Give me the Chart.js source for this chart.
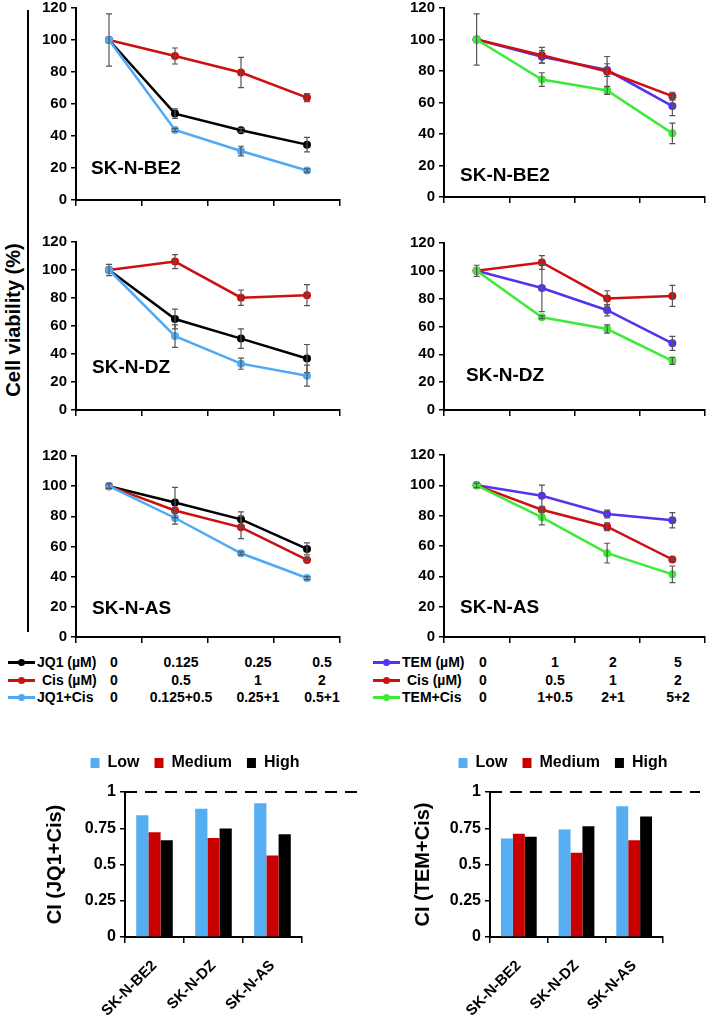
<!DOCTYPE html>
<html>
<head>
  <meta charset="utf-8">
  <title>Cell viability and CI</title>
  <script src="https://cdn.jsdelivr.net/npm/chart.js"></script>
  <style>
    body { margin: 0; width: 709px; height: 1017px; position: relative; overflow: hidden; background: #fff;
           font-family: "Liberation Sans", Arial, sans-serif; font-weight: bold; color: #000; }
    canvas { position: absolute; }
    .cell { position: absolute; font-size: 19px; line-height: 19px; white-space: nowrap; }
    .ylab { position: absolute; left: 13px; top: 320px; font-size: 20px; line-height: 20px; white-space: nowrap;
            transform: translate(-50%, -50%) rotate(-90deg); }
    .vline { position: absolute; left: 27px; top: 10px; width: 2px; height: 622px; background: #000; }
    .lg { position: absolute; font-size: 14px; line-height: 16px; white-space: nowrap; }
    .num { transform: translateX(-50%); }
    .mk { position: absolute; width: 27px; height: 3px; }
    .mk::after { content: ""; position: absolute; left: 10px; top: -2px; width: 7px; height: 7px; border-radius: 50%; background: inherit; }
  </style>
</head>
<body>
  <div class="vline"></div>
  <div class="ylab">Cell viability (%)</div>

  <canvas id="be2Jq1" width="344" height="218" style="left:0;top:-5px"></canvas>
  <canvas id="be2Tem" width="349" height="215" style="left:360px;top:-5px"></canvas>
  <canvas id="dzJq1" width="344" height="194" style="left:0;top:229px"></canvas>
  <canvas id="dzTem" width="349" height="193" style="left:360px;top:230px"></canvas>
  <canvas id="asJq1" width="344" height="207" style="left:0;top:443px"></canvas>
  <canvas id="asTem" width="349" height="208" style="left:360px;top:442px"></canvas>

  <div class="cell" style="left:91px;top:158px">SK-N-BE2</div>
  <div class="cell" style="left:460px;top:165px">SK-N-BE2</div>
  <div class="cell" style="left:92px;top:357px">SK-N-DZ</div>
  <div class="cell" style="left:466px;top:365px">SK-N-DZ</div>
  <div class="cell" style="left:92px;top:598px">SK-N-AS</div>
  <div class="cell" style="left:460px;top:597px">SK-N-AS</div>

  <div id="legendJq1"></div>
  <div id="legendTem"></div>

  <canvas id="ciJq1" width="344" height="277" style="left:20px;top:740px"></canvas>
  <canvas id="ciTem" width="302" height="277" style="left:407px;top:740px"></canvas>

  <script>
    // dose steps (shown in the table under the line charts)
    const jq1Doses = ['0', '0.125', '0.25', '0.5'];
    const cisDoses = ['0', '0.5', '1', '2'];
    const jq1CisDoses = ['0', '0.125+0.5', '0.25+1', '0.5+1'];
    const temDoses = ['0', '1', '2', '5'];
    const temCisDoses = ['0', '1+0.5', '2+1', '5+2'];

    // cell viability (%) and error (+/-)
    const cisBe2 = [100, 90, 79.7, 64];
    const cisBe2Err = [16.3, 5, 9.5, 2.5];
    const jq1Be2 = [100, 54, 43.6, 34.6];
    const jq1Be2Err = [0, 3, 1.2, 4.5];
    const jq1CisBe2 = [100, 43.8, 30.6, 18.4];
    const jq1CisBe2Err = [0, 1, 3, 1];
    const temBe2 = [100, 89, 80.6, 57.7];
    const temBe2Err = [0, 4, 4, 6];
    const temCisBe2 = [100, 74.6, 67.6, 40.4];
    const temCisBe2Err = [0, 4.3, 2.5, 6.5];

    const cisDz = [100, 106, 80.2, 82];
    const cisDzErr = [4, 5, 5.5, 7.5];
    const jq1Dz = [100, 65, 51, 36.8];
    const jq1DzErr = [0, 7, 7, 10];
    const jq1CisDz = [100, 52.8, 33.1, 24.5];
    const jq1CisDzErr = [0, 8, 4, 7.5];
    const temDz = [100, 87.7, 71.7, 47.9];
    const temDzErr = [0, 17, 4, 5];
    const temCisDz = [100, 66.6, 58.2, 35.3];
    const temCisDzErr = [0, 1, 3, 2.5];

    const cisAs = [100, 83.9, 72.7, 51.1];
    const cisAsErrJq1 = [1.5, 2, 7.5, 1];
    const cisAsErrTem = [1.5, 1.5, 2.5, 1];
    const jq1As = [100, 89.2, 78, 58.4];
    const jq1AsErr = [0, 10, 5, 4];
    const jq1CisAs = [100, 78.9, 55.5, 39.1];
    const jq1CisAsErr = [0, 4, 1, 1];
    const temAs = [100, 93.1, 81.1, 77];
    const temAsErr = [0, 7, 2.5, 5];
    const temCisAs = [100, 78.9, 55.3, 41.3];
    const temCisAsErr = [0, 5, 6.5, 5.5];

    // combination index
    const cellLines = ['SK-N-BE2', 'SK-N-DZ', 'SK-N-AS'];
    const ciJq1Low = [0.84, 0.884, 0.922];
    const ciJq1Medium = [0.723, 0.682, 0.562];
    const ciJq1High = [0.667, 0.749, 0.709];
    const ciTemLow = [0.68, 0.741, 0.902];
    const ciTemMedium = [0.712, 0.581, 0.668];
    const ciTemHigh = [0.691, 0.764, 0.831];
    const ciTicks = [0, 0.25, 0.5, 0.75, 1];
    const ciThreshold = 1;

    const RED = '#cc1010', BLACK = '#000000', LIGHTBLUE = '#4fa9f5', PURPLE = '#5533ee', GREEN = '#3dea3a';
    const BAR_LOW = '#55aef2', BAR_MED = '#c80000', BAR_HIGH = '#000000';

    Chart.defaults.font.family = "'Liberation Sans', Arial, sans-serif";
    Chart.defaults.font.weight = 'bold';
    Chart.defaults.color = '#000';

    // draws +/- error bars from dataset.errors
    const errorBars = {
      id: 'errorBars',
      afterDatasetsDraw(chart) {
        const ctx = chart.ctx;
        const y = chart.scales.y;
        ctx.save();
        ctx.strokeStyle = '#555';
        ctx.lineWidth = 1.2;
        chart.data.datasets.forEach((ds, i) => {
          if (!ds.errors) return;
          chart.getDatasetMeta(i).data.forEach((pt, j) => {
            const e = ds.errors[j];
            if (!e) return;
            const top = y.getPixelForValue(ds.data[j] + e);
            const bot = y.getPixelForValue(ds.data[j] - e);
            ctx.beginPath();
            ctx.moveTo(pt.x, top); ctx.lineTo(pt.x, bot);
            ctx.moveTo(pt.x - 3, top); ctx.lineTo(pt.x + 3, top);
            ctx.moveTo(pt.x - 3, bot); ctx.lineTo(pt.x + 3, bot);
            ctx.stroke();
          });
        });
        ctx.restore();
      }
    };

    function lineChart(id, labels, series, yWidth) {
      return new Chart(document.getElementById(id), {
        type: 'line',
        data: {
          labels: labels,
          datasets: series.map(s => ({
            data: s.values, errors: s.errors, order: s.order,
            borderColor: s.color, backgroundColor: s.color,
            borderWidth: 2.5, pointRadius: 4, pointBorderWidth: 0, tension: 0
          }))
        },
        options: {
          responsive: false, animation: false,
          layout: { padding: { top: 12, bottom: 4, left: 0, right: 4 } },
          plugins: { legend: { display: false }, tooltip: { enabled: false } },
          scales: {
            x: {
              offset: true,
              ticks: { display: false },
              grid: { offset: true, drawOnChartArea: false, tickLength: 6, color: '#000', lineWidth: 1.5 },
              border: { color: '#000', width: 2 },
              afterFit: s => { s.height = 6; }
            },
            y: {
              min: 0, max: 120,
              ticks: { stepSize: 20, padding: 4, font: { size: 15, weight: 'bold' }, color: '#000' },
              grid: { drawOnChartArea: false, tickLength: 5, color: '#000', lineWidth: 1.5 },
              border: { color: '#000', width: 2 },
              afterFit: s => { s.width = yWidth; }
            }
          }
        },
        plugins: [errorBars]
      });
    }

    lineChart('be2Jq1', jq1Doses, [
      { values: jq1Be2, errors: jq1Be2Err, color: BLACK, order: 2 },
      { values: cisBe2, errors: cisBe2Err, color: RED, order: 1 },
      { values: jq1CisBe2, errors: jq1CisBe2Err, color: LIGHTBLUE, order: 0 }
    ], 76);
    lineChart('be2Tem', temDoses, [
      { values: temBe2, errors: temBe2Err, color: PURPLE, order: 2 },
      { values: cisBe2, errors: cisBe2Err, color: RED, order: 1 },
      { values: temCisBe2, errors: temCisBe2Err, color: GREEN, order: 0 }
    ], 84);
    lineChart('dzJq1', jq1Doses, [
      { values: jq1Dz, errors: jq1DzErr, color: BLACK, order: 2 },
      { values: cisDz, errors: cisDzErr, color: RED, order: 1 },
      { values: jq1CisDz, errors: jq1CisDzErr, color: LIGHTBLUE, order: 0 }
    ], 76);
    lineChart('dzTem', temDoses, [
      { values: temDz, errors: temDzErr, color: PURPLE, order: 2 },
      { values: cisDz, errors: cisDzErr, color: RED, order: 1 },
      { values: temCisDz, errors: temCisDzErr, color: GREEN, order: 0 }
    ], 84);
    lineChart('asJq1', jq1Doses, [
      { values: jq1As, errors: jq1AsErr, color: BLACK, order: 2 },
      { values: cisAs, errors: cisAsErrJq1, color: RED, order: 1 },
      { values: jq1CisAs, errors: jq1CisAsErr, color: LIGHTBLUE, order: 0 }
    ], 76);
    lineChart('asTem', temDoses, [
      { values: temAs, errors: temAsErr, color: PURPLE, order: 2 },
      { values: cisAs, errors: cisAsErrTem, color: RED, order: 1 },
      { values: temCisAs, errors: temCisAsErr, color: GREEN, order: 0 }
    ], 84);

    // dose table under the line charts
    function doseTable(el, rows, markerX, cols) {
      const tops = [654, 672, 689];
      let html = '';
      rows.forEach((r, i) => {
        html += `<div class="mk" style="left:${markerX}px;top:${tops[i] + 7}px;background:${r.color}"></div>`;
        html += `<div class="lg" style="left:${r.x}px;top:${tops[i]}px">${r.name}</div>`;
        r.doses.forEach((d, j) => {
          html += `<div class="lg num" style="left:${cols[j]}px;top:${tops[i]}px">${d}</div>`;
        });
      });
      document.getElementById(el).innerHTML = html;
    }
    doseTable('legendJq1', [
      { name: 'JQ1 (µM)', doses: jq1Doses, color: BLACK, x: 37 },
      { name: 'Cis (µM)', doses: cisDoses, color: RED, x: 42 },
      { name: 'JQ1+Cis', doses: jq1CisDoses, color: LIGHTBLUE, x: 37 }
    ], 8, [114, 181, 258, 322]);
    doseTable('legendTem', [
      { name: 'TEM (µM)', doses: temDoses, color: PURPLE, x: 402 },
      { name: 'Cis (µM)', doses: cisDoses, color: RED, x: 407 },
      { name: 'TEM+Cis', doses: temCisDoses, color: GREEN, x: 402 }
    ], 373, [483, 555, 613, 678]);

    // dashed CI = 1 line, running past the plot area
    const thresholdLine = {
      id: 'thresholdLine',
      afterDatasetsDraw(chart, args, opts) {
        const ctx = chart.ctx;
        const y = chart.scales.y.getPixelForValue(ciThreshold);
        ctx.save();
        ctx.strokeStyle = '#000';
        ctx.lineWidth = 2;
        ctx.setLineDash([12, 8]);
        ctx.beginPath();
        ctx.moveTo(chart.chartArea.left, y);
        ctx.lineTo(chart.width - opts.endGap, y);
        ctx.stroke();
        ctx.restore();
      }
    };
    // extra room under the legend, and nudge it sideways
    const legendPlace = {
      id: 'legendPlace',
      beforeInit(chart) {
        const fit = chart.legend.fit;
        chart.legend.fit = function () { fit.bind(chart.legend)(); this.height += 11; };
      },
      afterLayout(chart, args, opts) {
        chart.legend.left += opts.shift;
        chart.legend.right += opts.shift;
      }
    };

    function ciChart(id, low, med, high, title, yWidth, titlePad, rightPad, endGap, legendShift) {
      return new Chart(document.getElementById(id), {
        type: 'bar',
        data: {
          labels: cellLines,
          datasets: [
            { label: 'Low', data: low, backgroundColor: BAR_LOW },
            { label: 'Medium', data: med, backgroundColor: BAR_MED },
            { label: 'High', data: high, backgroundColor: BAR_HIGH }
          ]
        },
        options: {
          responsive: false, animation: false,
          layout: { padding: { top: 0, bottom: 0, left: 0, right: rightPad } },
          datasets: { bar: { categoryPercentage: 0.62, barPercentage: 1 } },
          plugins: {
            tooltip: { enabled: false },
            legend: {
              labels: { boxWidth: 9, boxHeight: 10, padding: 15, color: '#000', font: { size: 16, weight: 'bold' } }
            },
            thresholdLine: { endGap: endGap },
            legendPlace: { shift: legendShift }
          },
          scales: {
            x: {
              ticks: { maxRotation: 45, minRotation: 45, padding: 14, font: { size: 15, weight: 'bold' }, color: '#000' },
              grid: { offset: true, drawOnChartArea: false, tickLength: 6, color: '#000', lineWidth: 1.5 },
              border: { color: '#000', width: 2 },
              afterFit: s => { s.height = 80; }
            },
            y: {
              min: 0, max: 1,
              afterBuildTicks: s => { s.ticks = ciTicks.map(v => ({ value: v })); },
              ticks: { padding: 4, font: { size: 16, weight: 'bold' }, color: '#000', callback: v => String(v) },
              grid: { drawOnChartArea: false, tickLength: 5, color: '#000', lineWidth: 1.5 },
              border: { color: '#000', width: 2 },
              title: { display: true, text: title, color: '#000', font: { size: 20, weight: 'bold' }, padding: { top: titlePad - 2, bottom: 0 } },
              afterFit: s => { s.width = yWidth; }
            }
          }
        },
        plugins: [thresholdLine, legendPlace]
      });
    }

    ciChart('ciJq1', ciJq1Low, ciJq1Medium, ciJq1High, 'CI (JQ1+Cis)', 105, 25, 62, 6, 34);
    ciChart('ciTem', ciTemLow, ciTemMedium, ciTemHigh, 'CI (TEM+Cis)', 83, 6, 46, 9, 28);
  </script>
</body>
</html>
